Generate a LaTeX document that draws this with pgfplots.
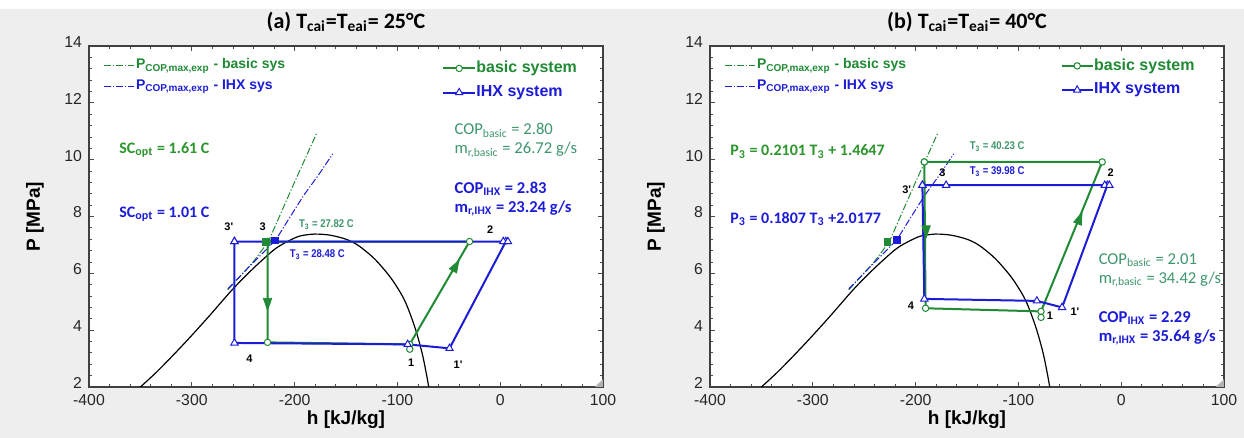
\documentclass[border=0pt]{standalone}
\usepackage{fontspec}
\setmainfont{Carlito}
\newfontfamily\arial{Liberation Sans}
\newfontfamily\arialn[FakeStretch=0.85]{Liberation Sans}
\usepackage{pgfplots}
\pgfplotsset{compat=1.18}

\definecolor{cgreen}{RGB}{32,138,52}
\definecolor{cblue}{RGB}{28,28,215}
\definecolor{cteal}{RGB}{62,150,108}
\definecolor{ctxtg}{RGB}{44,150,44}
\definecolor{bgcol}{RGB}{238,238,238}

\tikzset{dd/.style={dash pattern=on 3.5pt off 1pt on 0.6pt off 1pt, line width=0.5pt}}

\pgfplotsset{
  ph/.style={
    scale only axis, width=257pt, height=170.5pt,
    xmin=-400, xmax=100, ymin=2, ymax=14,
    xtick={-400,-300,...,100}, ytick={2,4,...,14},
    minor x tick num=4, minor y tick num=4,
    tick align=inside, major tick length=2.5pt, minor tick length=1.5pt,
    axis line style={draw=black!75, line width=0.6pt},
    every tick/.style={black!70, line width=0.4pt},
    tick label style={font=\arial\fontsize{7.9}{9}\selectfont, text=black!85},
    /pgf/number format/assume math mode=true,
    yticklabel style={yshift=2pt},
    xlabel={h [kJ/kg]}, ylabel={P [MPa]},
    label style={font=\arial\bfseries\fontsize{9.5}{11}\selectfont},
    xlabel style={at={(axis description cs:0.5,-0.097)}, anchor=center},
    ylabel style={at={(axis description cs:-0.105,0.5)}, anchor=center},
    axis background/.style={fill=white},
    clip=false,
  },
  dome/.style={black, line width=0.6pt, smooth, tension=0.5},
  basic/.style={cgreen, line width=1pt, mark=*, mark size=1.6pt,
    mark options={fill=white, draw=cgreen, line width=0.5pt, solid}},
  ihx/.style={cblue, line width=1pt, mark=triangle*, mark size=2.1pt,
    mark options={fill=white, draw=cblue, line width=0.5pt, solid}},
  arr/.style={only marks, mark=triangle*, mark size=4pt, color=cgreen},
}

\newcommand{\ptlab}{\arial\bfseries\fontsize{5.5}{6}\selectfont}
\newcommand{\tlab}{\arialn\bfseries\fontsize{5.6}{6}\selectfont}
\newcommand{\leglab}{\arial\bfseries\fontsize{7}{8}\selectfont}
\newcommand{\sysl}{\arial\bfseries\fontsize{8}{9}\selectfont}
\newcommand{\copf}{\fontsize{8.3}{10}\selectfont}

\begin{document}
\begin{tikzpicture}
\useasboundingbox (-44.5pt,-25.5pt) rectangle (577.5pt,193.5pt);
\fill[bgcol] (-44.5pt,-25.5pt) rectangle (577.5pt,189pt);
\fill[white] (-44.5pt,189pt) rectangle (577.5pt,193.5pt);

% ---------------- (a) 25 C ----------------
\begin{axis}[ph, at={(0pt,0pt)}]
\addplot[dome] coordinates {(-350,2.0) (-335,2.5) (-320,3.05) (-303,3.7) (-283,4.5) (-260,5.45) (-240,6.18) (-220,6.83) (-208,7.1) (-196,7.3) (-185,7.37) (-177,7.38) (-165,7.34) (-150,7.2) (-138,6.98) (-122,6.5) (-106,5.82) (-93,5.05) (-83,4.1) (-76,3.2) (-72,2.5) (-69.5,2.0)};
\addplot[cgreen, dd] coordinates {(-265,5.42) (-241,6.37) (-225.6,7.11) (-202,9.05) (-178.5,10.93)};
\addplot[cblue, dd] coordinates {(-265,5.45) (-241,6.35) (-218.4,7.17) (-205,7.95) (-191,8.75) (-176,9.5) (-163,10.2)};
% basic cycle
\addplot[basic] coordinates {(-226.3,7.12) (-226.3,3.57) (-88,3.5) (-29.8,7.12) (-226.3,7.12)};
\addplot[basic, only marks] coordinates {(-88,3.33)};
% IHX cycle
\addplot[ihx] coordinates {(-258.5,7.12) (-258.5,3.55) (-90,3.5) (-49.3,3.36) (5.5,7.12) (-258.5,7.12)};
\addplot[ihx, only marks] coordinates {(3,7.12) (7.5,7.12)};
% optimum points
\addplot[only marks, mark=square*, mark size=1.7pt, cgreen] coordinates {(-227.9,7.12)};
\addplot[only marks, mark=square*, mark size=1.7pt, cblue] coordinates {(-219.4,7.16)};
% arrows
\addplot[arr, mark options={rotate=180, xscale=0.6}] coordinates {(-226.3,4.98)};
\addplot[arr, mark options={rotate=-29.3, xscale=0.6}] coordinates {(-44,6.21)};
% legends
\addplot[cgreen, dd] coordinates {(-385.4,13.3) (-356.2,13.3)};
\addplot[cblue, dd] coordinates {(-385.4,12.57) (-356.2,12.57)};
\node[anchor=west, inner sep=0.5pt, text=cgreen, font=\leglab] at (axis cs:-355.5,13.3) {P\textsubscript{COP,max,exp} - basic sys};
\node[anchor=west, inner sep=0.5pt, text=cblue, font=\leglab] at (axis cs:-355.5,12.57) {P\textsubscript{COP,max,exp} - IHX sys};
\addplot[basic, mark indices={2}] coordinates {(-55.3,13.21) (-39.9,13.21) (-24.5,13.21)};
\addplot[ihx, mark indices={2}] coordinates {(-55.3,12.36) (-39.9,12.36) (-24.5,12.36)};
\node[anchor=west, inner sep=0.5pt, text=cgreen, font=\sysl] at (axis cs:-24.5,13.21) {basic system};
\node[anchor=west, inner sep=0.5pt, text=cblue, font=\sysl] at (axis cs:-24.5,12.36) {IHX system};
% annotations
\node[anchor=west, inner sep=0pt, text=cteal, font=\copf] at (axis cs:-44.7,11.04) {COP\textsubscript{basic} = 2.80};
\node[anchor=west, inner sep=0pt, text=cteal, font=\copf] at (axis cs:-44.7,10.34) {m\textsubscript{r,basic} = 26.72 g/s};
\node[anchor=west, inner sep=0pt, text=cblue, font=\copf\bfseries] at (axis cs:-44.7,8.97) {COP\textsubscript{IHX} = 2.83};
\node[anchor=west, inner sep=0pt, text=cblue, font=\copf\bfseries] at (axis cs:-44.7,8.29) {m\textsubscript{r,IHX} = 23.24 g/s};
\node[anchor=west, inner sep=0pt, text=ctxtg, font=\fontsize{8}{9}\selectfont\bfseries] at (axis cs:-370.8,10.34) {SC\textsubscript{opt} = 1.61 C};
\node[anchor=west, inner sep=0pt, text=cblue, font=\fontsize{8}{9}\selectfont\bfseries] at (axis cs:-370.8,8.09) {SC\textsubscript{opt} = 1.01 C};
\node[anchor=west, inner sep=0pt, text=cteal, font=\tlab] at (axis cs:-196.1,7.73) {T\textsubscript{3} = 27.82 C};
\node[anchor=west, inner sep=0pt, text=cblue, font=\tlab] at (axis cs:-204.9,6.65) {T\textsubscript{3} = 28.48 C};
% state point labels
\node[font=\ptlab] at (axis cs:-264,7.65) {3'};
\node[font=\ptlab] at (axis cs:-231,7.65) {3};
\node[font=\ptlab] at (axis cs:-9.7,7.55) {2};
\node[font=\ptlab] at (axis cs:-244,3.0) {4};
\node[font=\ptlab] at (axis cs:-86.5,2.85) {1};
\node[font=\ptlab] at (axis cs:-41,2.8) {1'};
\node[font=\bfseries\fontsize{11}{12}\selectfont] at (axis description cs:0.5,1) [yshift=12pt] {(a) T\textsubscript{cai}=T\textsubscript{eai}= 25°C};
\fill[black!30] (axis cs:100,2) -- (axis cs:92.2,2) -- (axis cs:100,2.28) -- cycle;
\end{axis}

% ---------------- (b) 40 C ----------------
\begin{axis}[ph, at={(310.5pt,0pt)}]
\addplot[dome] coordinates {(-350,2.0) (-335,2.5) (-320,3.05) (-303,3.7) (-283,4.5) (-260,5.45) (-240,6.18) (-220,6.83) (-208,7.1) (-196,7.3) (-185,7.37) (-177,7.38) (-165,7.34) (-150,7.2) (-138,6.98) (-122,6.5) (-106,5.82) (-93,5.05) (-83,4.1) (-76,3.2) (-72,2.5) (-69.5,2.0)};
\addplot[cgreen, dd] coordinates {(-265,5.42) (-241,6.37) (-225.6,7.11) (-202,9.05) (-178.5,10.93)};
\addplot[cblue, dd] coordinates {(-265,5.45) (-241,6.35) (-218.4,7.17) (-205,7.95) (-191,8.75) (-176,9.5) (-163,10.2)};
% basic cycle
\addplot[basic] coordinates {(-191.5,9.92) (-190.3,4.77) (-78,4.66) (-18.5,9.92) (-191.5,9.92)};
\addplot[basic, only marks] coordinates {(-78,4.45)};
% IHX cycle
\addplot[ihx] coordinates {(-193.4,9.1) (-191.5,5.1) (-82,5.03) (-57.5,4.8) (-13.5,9.1) (-170.3,9.1) (-193.4,9.1)};
\addplot[ihx, only marks] coordinates {(-16,9.1) (-11.5,9.1)};
% optimum points
\addplot[only marks, mark=square*, mark size=1.7pt, cgreen] coordinates {(-227.4,7.12)};
\addplot[only marks, mark=square*, mark size=1.7pt, cblue] coordinates {(-218.5,7.18)};
% arrows
\addplot[arr, mark options={rotate=180, xscale=0.6}] coordinates {(-189.8,7.53)};
\addplot[arr, mark options={rotate=-21.6, xscale=0.6}] coordinates {(-41,7.88)};
% legends
\addplot[cgreen, dd] coordinates {(-385.4,13.3) (-356.2,13.3)};
\addplot[cblue, dd] coordinates {(-385.4,12.57) (-356.2,12.57)};
\node[anchor=west, inner sep=0.5pt, text=cgreen, font=\leglab] at (axis cs:-355.5,13.3) {P\textsubscript{COP,max,exp} - basic sys};
\node[anchor=west, inner sep=0.5pt, text=cblue, font=\leglab] at (axis cs:-355.5,12.57) {P\textsubscript{COP,max,exp} - IHX sys};
\addplot[basic, mark indices={2}] coordinates {(-57.9,13.3) (-42.8,13.3) (-27.7,13.3)};
\addplot[ihx, mark indices={2}] coordinates {(-57.9,12.45) (-42.8,12.45) (-27.7,12.45)};
\node[anchor=west, inner sep=0.5pt, text=cgreen, font=\sysl] at (axis cs:-27.7,13.3) {basic system};
\node[anchor=west, inner sep=0.5pt, text=cblue, font=\sysl] at (axis cs:-27.7,12.45) {IHX system};
% annotations
\node[anchor=west, inner sep=0pt, text=ctxtg, font=\fontsize{8}{9}\selectfont\bfseries] at (axis cs:-380.5,10.28) {P\textsubscript{3} = 0.2101 T\textsubscript{3} + 1.4647};
\node[anchor=west, inner sep=0pt, text=cblue, font=\fontsize{8}{9}\selectfont\bfseries] at (axis cs:-380.5,7.91) {P\textsubscript{3} = 0.1807 T\textsubscript{3} +2.0177};
\node[anchor=west, inner sep=0pt, text=cteal, font=\copf] at (axis cs:-22.2,6.47) {COP\textsubscript{basic} = 2.01};
\node[anchor=west, inner sep=0pt, text=cteal, font=\copf] at (axis cs:-22.2,5.79) {m\textsubscript{r,basic} = 34.42 g/s};
\node[anchor=west, inner sep=0pt, text=cblue, font=\copf\bfseries] at (axis cs:-22.2,4.42) {COP\textsubscript{IHX} = 2.29};
\node[anchor=west, inner sep=0pt, text=cblue, font=\copf\bfseries] at (axis cs:-22.2,3.75) {m\textsubscript{r,IHX} = 35.64 g/s};
\node[anchor=west, inner sep=0pt, text=cteal, font=\tlab] at (axis cs:-147.7,10.46) {T\textsubscript{3} = 40.23 C};
\node[anchor=west, inner sep=0pt, text=cblue, font=\tlab] at (axis cs:-147.7,9.58) {T\textsubscript{3} = 39.98 C};
% state point labels
\node[font=\ptlab] at (axis cs:-208.7,8.95) {3'};
\node[font=\ptlab] at (axis cs:-174,9.54) {3};
\node[font=\ptlab] at (axis cs:-10.2,9.54) {2};
\node[font=\ptlab] at (axis cs:-204.5,4.85) {4};
\node[font=\ptlab] at (axis cs:-69.3,4.5) {1};
\node[font=\ptlab] at (axis cs:-45,4.65) {1'};
\node[font=\bfseries\fontsize{11}{12}\selectfont] at (axis description cs:0.5,1) [yshift=12pt] {(b) T\textsubscript{cai}=T\textsubscript{eai}= 40°C};
\fill[black!30] (axis cs:100,2) -- (axis cs:92.2,2) -- (axis cs:100,2.28) -- cycle;
\end{axis}
\end{tikzpicture}
\end{document}
